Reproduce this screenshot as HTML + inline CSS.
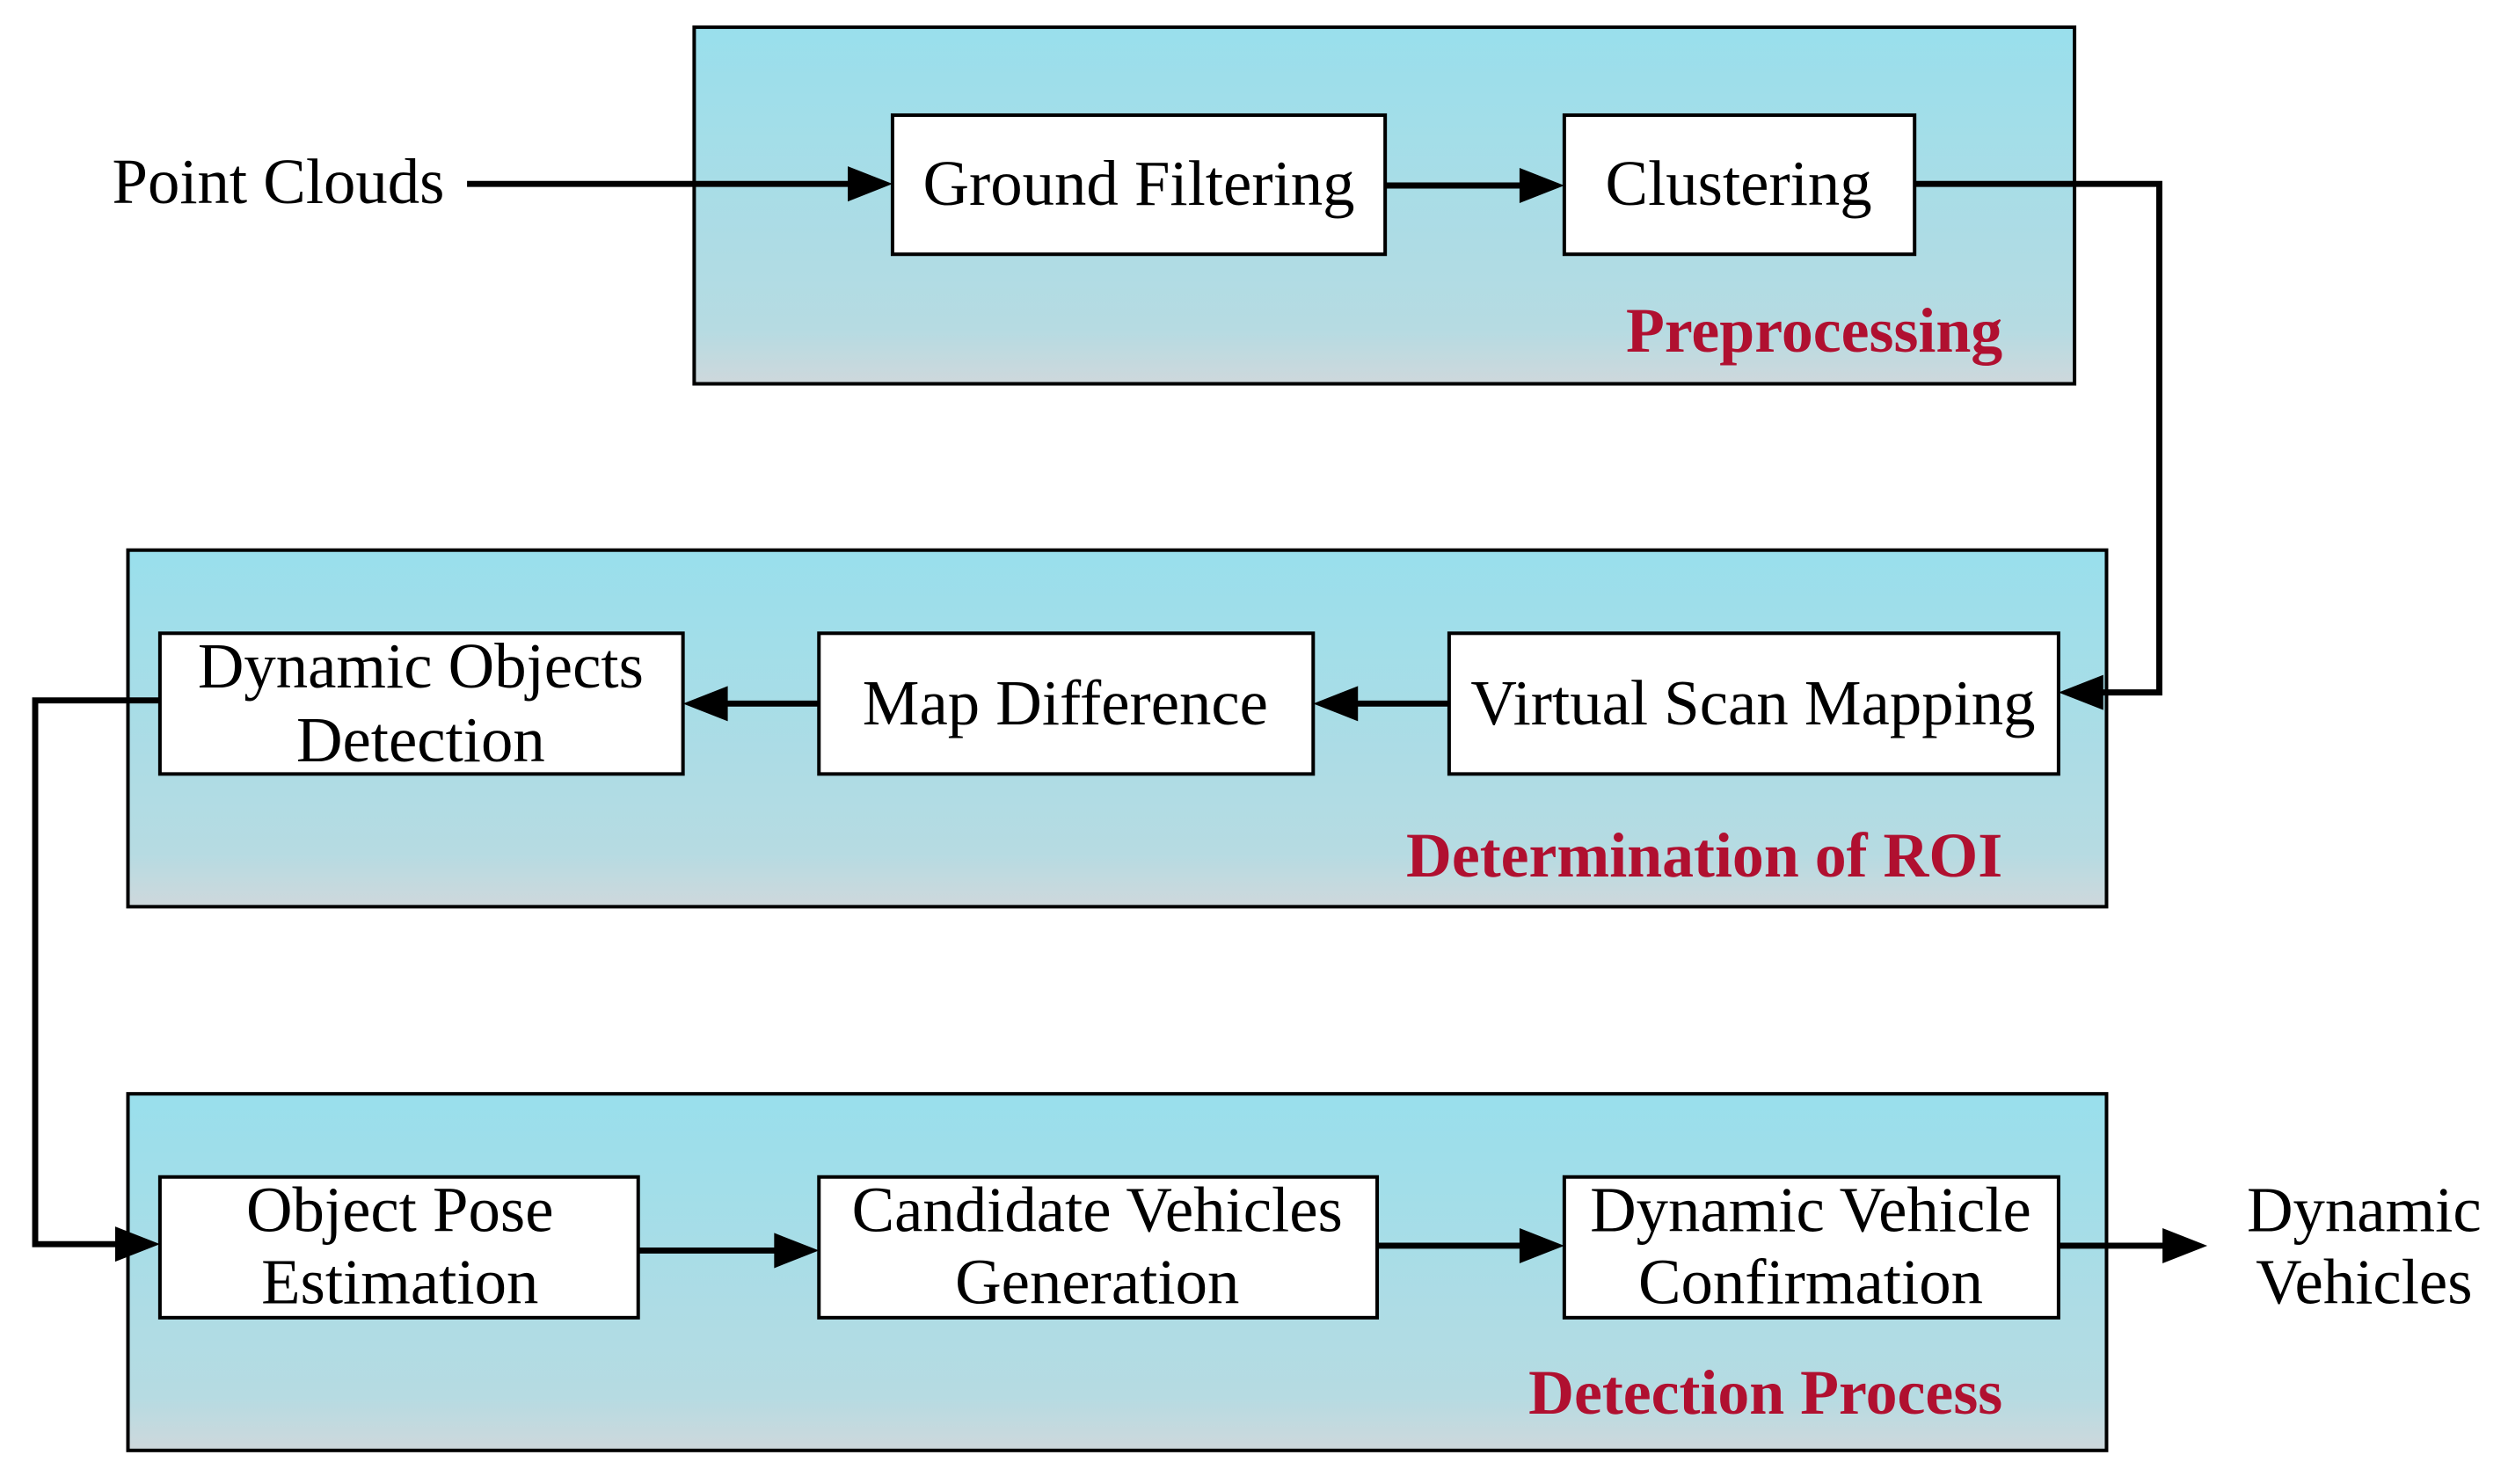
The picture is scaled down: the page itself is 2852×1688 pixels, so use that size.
<!DOCTYPE html>
<html><head><meta charset="utf-8"><style>
html,body{margin:0;padding:0;background:#fff;width:2852px;height:1688px;overflow:hidden}
svg{display:block}
text{font-family:"Liberation Serif",serif;fill:#000}
.t text{font-size:40px}
.lab text{font-size:39.5px;font-weight:bold;fill:#b01030}
</style></head><body>
<svg width="2852" height="1688" viewBox="0 0 1568 928" preserveAspectRatio="none" xmlns="http://www.w3.org/2000/svg">
<defs>
<linearGradient id="g" x1="0" y1="0" x2="0" y2="1">
<stop offset="0" stop-color="#99dfec"/>
<stop offset="0.85" stop-color="#b6dbe2"/>
<stop offset="1" stop-color="#ced8dc"/>
</linearGradient>
</defs>
<g stroke="#000" stroke-width="2.2">
<rect x="434" y="17" width="863" height="223" fill="url(#g)"/>
<rect x="80" y="344" width="1237" height="223" fill="url(#g)"/>
<rect x="80" y="684" width="1237" height="223" fill="url(#g)"/>
<rect x="558" y="72" width="308" height="87" fill="#fff"/>
<rect x="978" y="72" width="219" height="87" fill="#fff"/>
<rect x="100" y="396" width="327" height="88" fill="#fff"/>
<rect x="512" y="396" width="309" height="88" fill="#fff"/>
<rect x="906" y="396" width="381" height="88" fill="#fff"/>
<rect x="100" y="736" width="299" height="88" fill="#fff"/>
<rect x="512" y="736" width="349" height="88" fill="#fff"/>
<rect x="978" y="736" width="309" height="88" fill="#fff"/>
</g>
<g stroke="#000" stroke-width="3.8" fill="none">
<path d="M292 115 H532"/>
<path d="M866 116 H952"/>
<path d="M1197 115 H1350 V433 H1313"/>
<path d="M906 440 H848"/>
<path d="M512 440 H454"/>
<path d="M100 438 H22 V778 H74"/>
<path d="M399 782 H486"/>
<path d="M861 779 H952"/>
<path d="M1287 779 H1354"/>
</g>
<g fill="#000">
<polygon points="558,115 530,104 530,126"/>
<polygon points="978,116 950,105 950,127"/>
<polygon points="1287,433 1315,422 1315,444"/>
<polygon points="821,440 849,429 849,451"/>
<polygon points="427,440 455,429 455,451"/>
<polygon points="100,778 72,767 72,789"/>
<polygon points="512,782 484,771 484,793"/>
<polygon points="978,779 950,768 950,790"/>
<polygon points="1380,779 1352,768 1352,790"/>
</g>
<g class="t" text-anchor="middle">
<text x="174" y="127">Point Clouds</text>
<text x="712" y="128">Ground Filtering</text>
<text x="1087" y="128">Clustering</text>
<text x="263" y="430">Dynamic Objects</text>
<text x="263" y="476">Detection</text>
<text x="666" y="453">Map Difference</text>
<text x="1096" y="453">Virtual Scan Mapping</text>
<text x="250" y="770">Object Pose</text>
<text x="250" y="815">Estimation</text>
<text x="686" y="770">Candidate Vehicles</text>
<text x="686" y="815">Generation</text>
<text x="1132" y="770">Dynamic Vehicle</text>
<text x="1132" y="815">Confirmation</text>
<text x="1478" y="770">Dynamic</text>
<text x="1478" y="815">Vehicles</text>
</g>
<g class="lab" text-anchor="end">
<text x="1252" y="220">Preprocessing</text>
<text x="1252" y="548">Determination of ROI</text>
<text x="1252" y="884">Detection Process</text>
</g>
</svg>
</body></html>
